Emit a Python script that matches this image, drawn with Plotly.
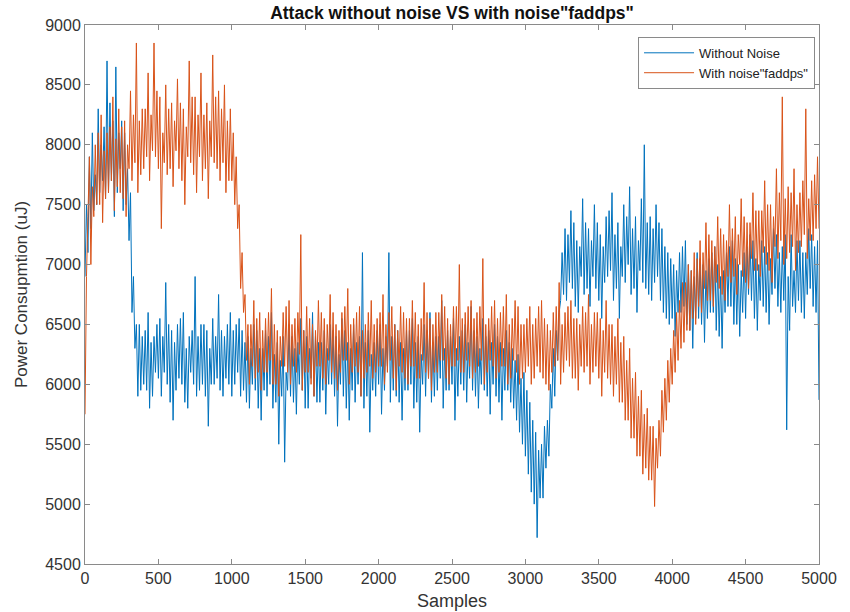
import plotly.graph_objects as go

# Sample index step used when reading the traces off the picture
step = 10

# "Without Noise" trace, read every 10 samples from 0 to 5000
without_noise = [
    6900, 7500, 7100, 7900, 7300, 8100, 7450, 7750, 7500, 8300, 7600, 8000, 7700, 8150, 7550, 8700, 7600, 8350, 7700, 8200,
    7400, 8650, 7600, 8100, 7800, 8200, 7450, 8100, 7500, 7800, 7200, 7600, 6600, 6900, 6300, 6500, 5900, 6500, 5950, 6400,
    6000, 6450, 5950, 6600, 5800, 6350, 5900, 6400, 6100, 6500, 6050, 6550, 5900, 6400, 6100, 6850, 6000, 6500, 5850, 6450,
    5700, 6350, 5950, 6500, 6050, 6550, 6000, 6600, 5850, 6300, 5800, 6400, 6100, 6450, 6000, 6900, 5900, 6400, 5950, 6500,
    6000, 6500, 5900, 6450, 5650, 6300, 6000, 6550, 6000, 6400, 6050, 6750, 5950, 6450, 5900, 6400, 6050, 6500, 6000, 6600,
    5900, 6450, 6000, 6500, 6100, 6550, 5900, 6450, 5950, 6350, 5850, 6400, 5800, 6300, 6000, 6500, 5950, 6450, 5800, 6300,
    5700, 6300, 5950, 6450, 5900, 6400, 6000, 6600, 5800, 6250, 5850, 6350, 5500, 6200, 5900, 6400, 5350, 6100, 5950, 6500,
    5900, 6400, 5850, 6300, 5750, 6350, 6000, 6550, 5950, 6450, 5800, 6400, 5800, 6300, 6050, 6600, 5900, 6400, 5850, 6350,
    5850, 6350, 5950, 6450, 5750, 6300, 6000, 6500, 6000, 6450, 5900, 6400, 5650, 6250, 6000, 6550, 5900, 6450, 5800, 6350,
    5700, 6300, 5950, 6500, 5850, 6350, 6000, 6400, 5900, 7100, 5800, 6350, 5900, 6450, 5600, 6250, 5950, 6350, 5900, 6450,
    6000, 6500, 5750, 6300, 5950, 6400, 6150, 7100, 5850, 6400, 5950, 6500, 5900, 6450, 5850, 6350, 5700, 6300, 5950, 6450,
    5950, 6450, 6000, 6550, 5800, 6350, 5850, 6400, 5600, 6250, 6000, 6500, 5900, 6450, 6050, 6600, 5850, 6350, 5900, 6400,
    5950, 6400, 6050, 6700, 5800, 6300, 5950, 6450, 5950, 6400, 6000, 6550, 5700, 6300, 5900, 6400, 6000, 6450, 5950, 6500,
    5850, 6350, 6050, 6650, 5950, 6450, 5900, 6400, 5800, 6300, 6000, 6550, 5950, 6400, 5900, 6450, 5750, 6350, 6000, 6500,
    5900, 6400, 5850, 6350, 5700, 6300, 5950, 6450, 5950, 6350, 5850, 6300, 5800, 6200, 5700, 6250, 5600, 6050, 5500, 6100,
    5400, 5950, 5250, 5850, 5100, 5700, 5000, 5600, 4720, 5450, 5050, 5500, 5050, 5650, 5300, 5700, 5400, 6000, 5800, 6300,
    5900, 6450, 6200, 6600, 6700, 7100, 6750, 7300, 6700, 7250, 6850, 7450, 6800, 7350, 6650, 7200, 6600, 7150, 6900, 7550,
    6750, 7350, 6800, 7300, 6650, 7200, 6900, 7500, 6800, 7350, 6700, 7250, 6550, 7150, 6850, 7400, 6900, 7450, 6950, 7600,
    6700, 7250, 6800, 7350, 6550, 7150, 6900, 7500, 6850, 7400, 7000, 7650, 6750, 7300, 6800, 7400, 6600, 7200, 6950, 7550,
    6850, 8000, 6800, 7350, 6750, 7400, 6700, 7300, 6850, 7500, 6900, 7350, 6700, 7300, 6600, 7150, 6550, 7100, 6500, 7050,
    6550, 7000, 6400, 6950, 6600, 7100, 6600, 7150, 6650, 7200, 6500, 7000, 6450, 6950, 6300, 6900, 6550, 7100, 6550, 7050,
    6500, 7000, 6350, 6950, 6550, 7050, 6600, 7100, 6600, 7150, 6450, 7000, 6400, 6900, 6300, 6950, 6600, 7100, 6650, 7150,
    6650, 7200, 6500, 7050, 6500, 7000, 6400, 6950, 6600, 7100, 6550, 7150, 6750, 7250, 6700, 7200, 6550, 7050, 6450, 7000,
    6700, 7200, 6650, 7150, 6600, 7100, 6500, 7050, 6750, 7300, 6800, 7250, 6650, 7100, 6600, 7150, 6700, 7250, 5620, 6900,
    6450, 7250, 6650, 6950, 6600, 7200, 6700, 7200, 6600, 7100, 6550, 7100, 6750, 7300, 6800, 7250, 6650, 7150, 6600, 7200,
    5870,
]

# 'With noise"faddps"' trace, read every 10 samples from 0 to 5000
with_noise = [
    5750, 6900, 7400, 7900, 7000, 7650, 7400, 8000, 7500, 8100, 7500, 8250, 7350, 7950, 7550, 8100, 7600, 8150, 7700, 8400,
    7450, 8050, 7650, 8300, 7600, 8150, 7550, 8200, 7400, 8000, 7800, 8450, 7700, 8250, 7850, 8850, 7600, 8200, 7750, 8300,
    7800, 8300, 7900, 8600, 7700, 8250, 7950, 8850, 7900, 8450, 7800, 8400, 7300, 8100, 7850, 8500, 7750, 8300, 7800, 8350,
    7650, 8200, 7950, 8550, 7800, 8350, 7700, 8300, 7500, 8150, 7900, 8700, 7850, 8400, 7750, 8400, 7600, 8250, 7900, 8600,
    7700, 8250, 7800, 8350, 7550, 8200, 7900, 8750, 7850, 8400, 7800, 8450, 7700, 8300, 7850, 8500, 7600, 8200, 7700, 8300,
    7700, 8100, 7500, 7900, 7300, 7500, 6800, 7100, 6600, 6750, 6200, 6500, 6000, 6500, 6150, 6700, 6050, 6550, 6100, 6600,
    5950, 6450, 6100, 6550, 6100, 6600, 6200, 6800, 6000, 6500, 6000, 6450, 5900, 6400, 6150, 6600, 6150, 6650, 6100, 6700,
    6000, 6500, 6150, 6550, 6100, 6600, 6250, 7250, 5950, 6450, 6100, 6650, 6100, 6550, 6000, 6500, 5900, 6450, 6150, 6700,
    6150, 6600, 6050, 6550, 6000, 6500, 6200, 6750, 6100, 6600, 6050, 6500, 5950, 6450, 6100, 6600, 6200, 6650, 6200, 6800,
    6000, 6500, 6100, 6550, 6150, 6600, 6100, 6650, 5900, 6450, 6050, 6500, 6100, 6600, 6150, 6700, 6050, 6500, 6100, 6550,
    6150, 6600, 6150, 6750, 6000, 6500, 6100, 6600, 6200, 6650, 6050, 6500, 5950, 6450, 6150, 6650, 6100, 6600, 6050, 6550,
    6000, 6550, 6150, 6700, 6150, 6600, 6050, 6500, 6050, 6550, 6200, 6850, 6100, 6600, 6050, 6550, 5950, 6500, 6100, 6600,
    6100, 6600, 6200, 6750, 6200, 6650, 6050, 6550, 6000, 6500, 6150, 6650, 6150, 6650, 6200, 7000, 6100, 6550, 6100, 6600,
    6200, 6650, 6150, 6700, 6050, 6550, 6100, 6600, 6150, 6650, 6200, 7050, 6000, 6500, 6100, 6550, 6200, 6650, 6150, 6700,
    6050, 6550, 6100, 6600, 6150, 6650, 6150, 6750, 6000, 6500, 6050, 6550, 6200, 6700, 6100, 6650, 6000, 6500, 6050, 6500,
    6100, 6550, 6150, 6650, 6000, 6500, 6050, 6550, 6150, 6650, 6100, 6700, 6050, 6550, 6000, 6500, 5950, 6450, 6100, 6600,
    6150, 6650, 6200, 6850, 6000, 6500, 6100, 6600, 6200, 6650, 6150, 6700, 6050, 6550, 6050, 6550, 5950, 6500, 6150, 6650,
    6100, 6600, 6150, 6750, 6000, 6500, 6100, 6600, 6150, 6600, 6050, 6550, 5900, 6450, 6100, 6700, 6050, 6500, 6000, 6500,
    5900, 6400, 6000, 6550, 5850, 6350, 5850, 6400, 5700, 6200, 5700, 6300, 5550, 6050, 5550, 6100, 5400, 5900, 5400, 5950,
    5250, 5750, 5300, 5800, 5200, 5650, 5200, 5650, 4980, 5550, 5300, 5700, 5400, 5950, 5600, 6050, 5700, 6200, 5850, 6300,
    6000, 6450, 6100, 6600, 6200, 6700, 6300, 6850, 6350, 6850, 6450, 7000, 6450, 6950, 6550, 7100, 6500, 7050, 6650, 7200,
    6600, 7100, 6800, 7350, 6700, 7250, 6700, 7200, 6650, 7150, 6850, 7400, 6800, 7300, 6750, 7250, 6700, 7200, 6900, 7500,
    6850, 7300, 6900, 7400, 6750, 7250, 7000, 7550, 6900, 7400, 6850, 7350, 6800, 7350, 7050, 7600, 6950, 7450, 6950, 7450,
    6900, 7450, 7100, 7700, 7000, 7500, 6950, 7500, 6850, 7400, 7150, 7800, 7050, 7600, 7200, 8400, 7000, 7550, 7050, 7650,
    7100, 7600, 7150, 7800, 6950, 7500, 7100, 7600, 7150, 7700, 7250, 8300, 7050, 7550, 7200, 7700, 7200, 7750, 7300, 7900,
    7300,
]

samples_a = [i * step for i in range(len(without_noise))]
samples_b = [i * step for i in range(len(with_noise))]

x_ticks = [0, 500, 1000, 1500, 2000, 2500, 3000, 3500, 4000, 4500, 5000]
y_ticks = [4500, 5000, 5500, 6000, 6500, 7000, 7500, 8000, 8500, 9000]

FONT = "Liberation Sans, Arial, sans-serif"
AX = "#8a8a8a"
TXT = "#333333"

fig = go.Figure()
fig.add_trace(go.Scatter(x=samples_a, y=without_noise, mode="lines",
                         name="Without Noise",
                         line=dict(color="#0072BD", width=1)))
fig.add_trace(go.Scatter(x=samples_b, y=with_noise, mode="lines",
                         name='With noise"faddps"',
                         line=dict(color="#D95319", width=1)))

axis_common = dict(showline=True, linecolor=AX, linewidth=1, mirror="ticks",
                   ticks="inside", ticklen=5, tickcolor=AX, showgrid=False,
                   zeroline=False, automargin=False,
                   tickfont=dict(family=FONT, size=16, color=TXT))

W, H = 850, 612
L, R, T, B = 85, 31, 25, 48
fig.update_layout(
    width=W, height=H,
    margin=dict(l=L, r=R, t=T, b=B, autoexpand=False),
    paper_bgcolor="white", plot_bgcolor="white",
    title=dict(text='<b>Attack without noise VS with noise"faddps"</b>',
               x=(L + W - R) / 2 / W, xanchor="center", y=1 - 12.5 / H, yanchor="middle",
               font=dict(family=FONT, size=17.5, color="#111111"), automargin=False),
    xaxis=dict(range=[0, 5000], tickvals=x_ticks,
               title=dict(text="Samples", font=dict(family=FONT, size=18, color=TXT), standoff=8),
               **axis_common),
    yaxis=dict(range=[4500, 9000], tickvals=y_ticks,
               title=dict(text="Power Consupmtion (uJ)", font=dict(family=FONT, size=17, color=TXT), standoff=13),
               **axis_common),
    legend=dict(x=0.9946, xanchor="right", y=0.978, yanchor="top",
                bgcolor="white", bordercolor=AX, borderwidth=1,
                font=dict(family=FONT, size=13, color="#222222"),
                itemwidth=50, tracegroupgap=0),
    showlegend=True,
)

fig.write_html("out.html", config={"displayModeBar": False},
               post_script="document.body.style.margin='0';")
